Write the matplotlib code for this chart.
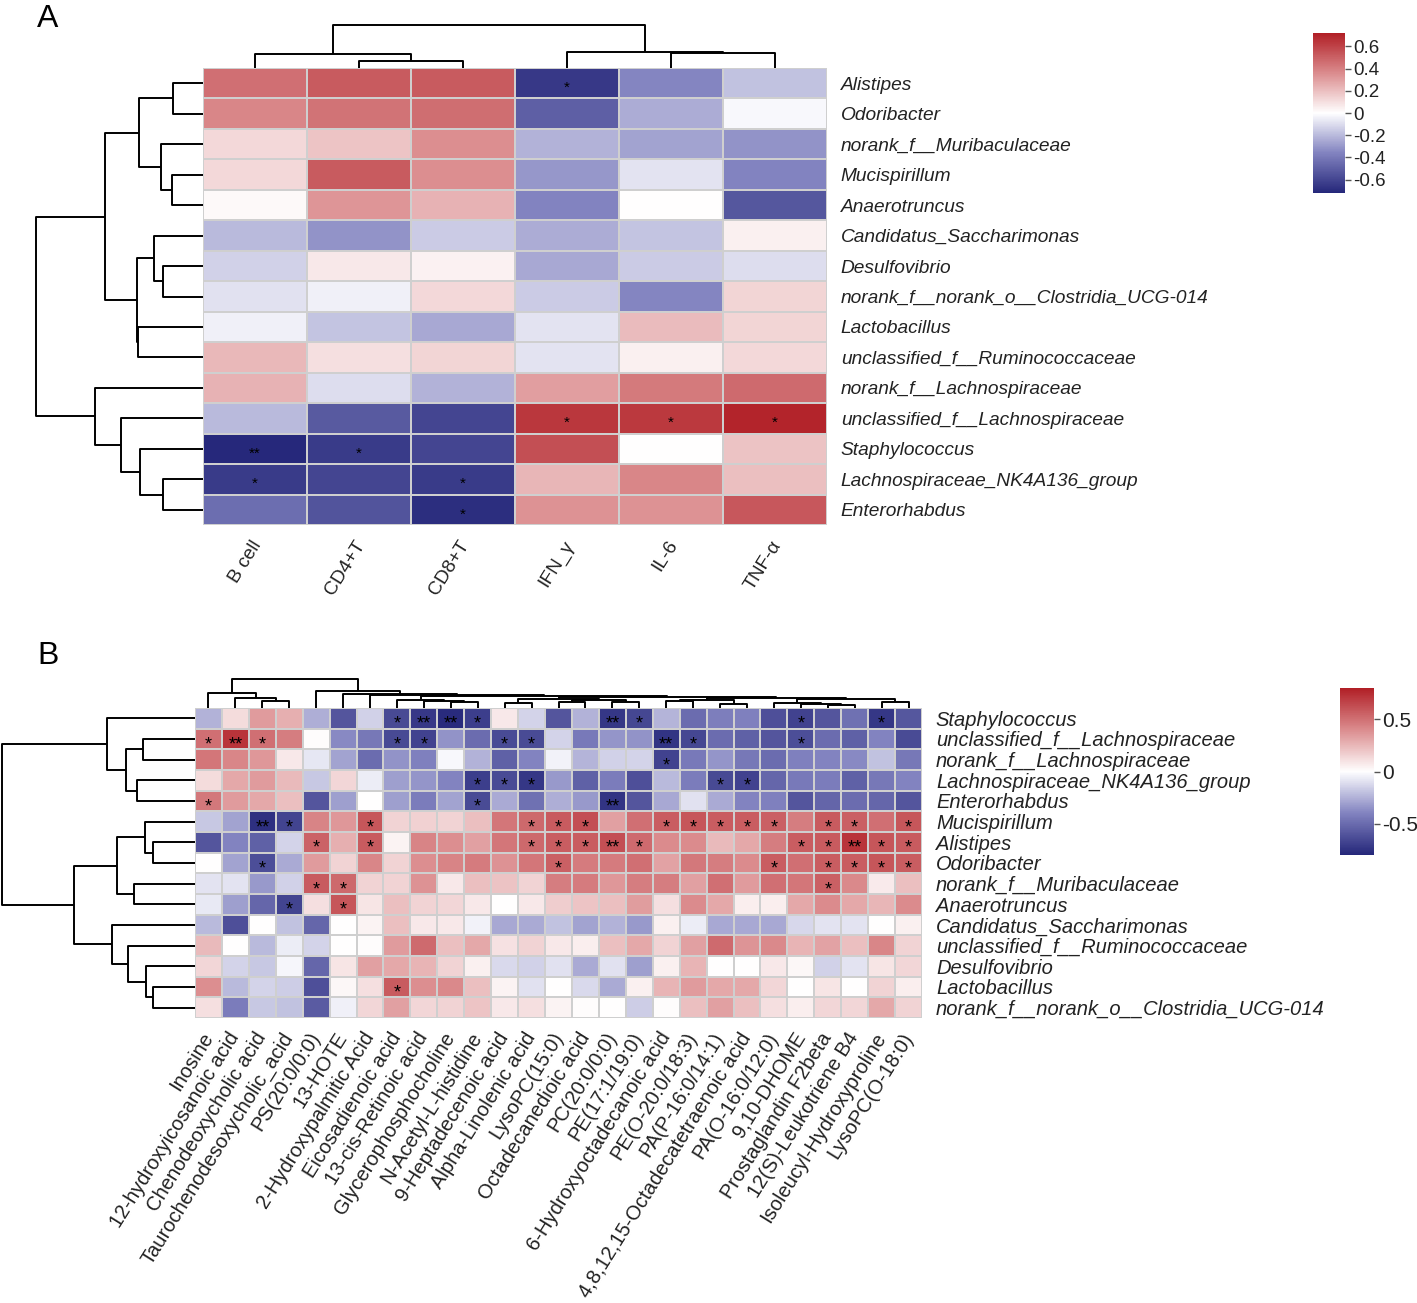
import numpy as np
import matplotlib
matplotlib.use('Agg')
import matplotlib.pyplot as plt
from matplotlib.colors import LinearSegmentedColormap
from matplotlib.transforms import offset_copy

plt.rcParams['font.family'] = ['Liberation Sans', 'DejaVu Sans']
plt.rcParams['axes.unicode_minus'] = False

# ---------------- panel A data ----------------
a_rows = ['Alistipes', 'Odoribacter', 'norank_f__Muribaculaceae', 'Mucispirillum',
          'Anaerotruncus', 'Candidatus_Saccharimonas', 'Desulfovibrio',
          'norank_f__norank_o__Clostridia_UCG-014', 'Lactobacillus',
          'unclassified_f__Ruminococcaceae', 'norank_f__Lachnospiraceae',
          'unclassified_f__Lachnospiraceae', 'Staphylococcus',
          'Lachnospiraceae_NK4A136_group', 'Enterorhabdus']
a_cols = ['B cell', 'CD4+T', 'CD8+T', 'IFN_γ', 'IL-6', 'TNF-α']
a_vals = [
    [0.45, 0.52, 0.52, -0.65, -0.35, -0.18],
    [0.38, 0.44, 0.46, -0.50, -0.24, -0.02],
    [0.12, 0.18, 0.35, -0.22, -0.27, -0.31],
    [0.12, 0.52, 0.35, -0.30, -0.08, -0.36],
    [0.02, 0.33, 0.24, -0.36, 0.00, -0.53],
    [-0.20, -0.31, -0.15, -0.24, -0.17, 0.05],
    [-0.13, 0.07, 0.04, -0.25, -0.15, -0.10],
    [-0.09, -0.04, 0.12, -0.15, -0.35, 0.13],
    [-0.04, -0.17, -0.25, -0.08, 0.21, 0.13],
    [0.22, 0.10, 0.13, -0.08, 0.05, 0.12],
    [0.24, -0.10, -0.22, 0.30, 0.42, 0.47],
    [-0.20, -0.52, -0.60, 0.64, 0.63, 0.70],
    [-0.71, -0.64, -0.60, 0.56, 0.00, 0.19],
    [-0.64, -0.60, -0.64, 0.23, 0.38, 0.20],
    [-0.44, -0.54, -0.69, 0.34, 0.34, 0.53],
]
a_stars = [(0, 3, '*'), (11, 3, '*'), (11, 4, '*'), (11, 5, '*'),
           (12, 0, '**'), (12, 1, '*'), (13, 0, '*'), (13, 2, '*'), (14, 2, '*')]
# dendrograms: (left child, right child, height); new node ids start at n
a_row_tree = [(0, 1, 56), (3, 4, 58), (2, 16, 78), (15, 17, 120), (6, 7, 74),
              (5, 19, 92), (8, 9, 121), (20, 21, 123), (18, 22, 182), (13, 14, 75),
              (12, 24, 118), (11, 25, 152), (10, 26, 202), (23, 27, 311)]
a_col_tree = [(1, 2, 19), (0, 6, 40), (4, 5, 44), (3, 8, 47), (7, 9, 125)]
a_ticks = [0.6, 0.4, 0.2, 0, -0.2, -0.4, -0.6]

# ---------------- panel B data ----------------
b_rows = ['Staphylococcus', 'unclassified_f__Lachnospiraceae', 'norank_f__Lachnospiraceae',
          'Lachnospiraceae_NK4A136_group', 'Enterorhabdus', 'Mucispirillum', 'Alistipes',
          'Odoribacter', 'norank_f__Muribaculaceae', 'Anaerotruncus',
          'Candidatus_Saccharimonas', 'unclassified_f__Ruminococcaceae', 'Desulfovibrio',
          'Lactobacillus', 'norank_f__norank_o__Clostridia_UCG-014']
b_cols = ['Inosine', '12-hydroxyicosanoic acid', 'Chenodeoxycholic acid',
          'Taurochenodesoxycholic_acid', 'PS(20:0/0:0)', '13-HOTE', '2-Hydroxypalmitic Acid',
          'Eicosadienoic acid', '13-cis-Retinoic acid', 'Glycerophosphocholine',
          'N-Acetyl-L-histidine', '9-Heptadecenoic acid', 'Alpha-Linolenic acid',
          'LysoPC(15:0)', 'Octadecanedioic acid', 'PC(20:0/0:0)', 'PE(17:1/19:0)',
          '6-Hydroxyoctadecanoic acid', 'PE(O-20:0/18:3)', 'PA(P-16:0/14:1)',
          '4,8,12,15-Octadecatetraenoic acid', 'PA(O-16:0/12:0)', '9,10-DHOME',
          'Prostaglandin F2beta', '12(S)-Leukotriene B4', 'Isoleucyl-Hydroxyproline',
          'LysoPC(O-18:0)']
b_vals = [
    [-0.25, 0.12, 0.35, 0.28, -0.26, -0.60, -0.15, -0.65, -0.72, -0.78, -0.70, 0.08, -0.14, -0.60,
     -0.25, -0.73, -0.66, -0.24, -0.50, -0.42, -0.41, -0.62, -0.68, -0.60, -0.48, -0.73, -0.59],
    [0.50, 0.72, 0.50, 0.45, 0.01, -0.38, -0.45, -0.65, -0.68, -0.35, -0.50, -0.64, -0.64, -0.14,
     -0.44, -0.34, -0.35, -0.74, -0.66, -0.50, -0.55, -0.60, -0.63, -0.50, -0.55, -0.40, -0.64],
    [0.48, 0.42, 0.36, 0.08, -0.08, -0.30, -0.50, -0.35, -0.41, -0.02, -0.25, -0.55, -0.40, -0.04,
     -0.24, -0.15, -0.14, -0.68, -0.44, -0.34, -0.45, -0.50, -0.41, -0.40, -0.38, -0.20, -0.45],
    [0.12, 0.30, 0.35, 0.24, -0.18, 0.14, -0.06, -0.31, -0.34, -0.40, -0.70, -0.64, -0.73, -0.33,
     -0.55, -0.43, -0.62, -0.22, -0.43, -0.65, -0.68, -0.52, -0.44, -0.43, -0.55, -0.45, -0.40],
    [0.47, 0.35, 0.30, 0.22, -0.60, -0.31, 0.00, -0.31, -0.43, -0.30, -0.64, -0.27, -0.48, -0.26,
     -0.33, -0.74, -0.60, -0.28, -0.10, -0.27, -0.40, -0.41, -0.60, -0.53, -0.50, -0.52, -0.60],
    [-0.18, -0.30, -0.76, -0.67, 0.43, 0.36, 0.60, 0.15, 0.16, 0.15, 0.22, 0.48, 0.53, 0.58,
     0.62, 0.33, 0.50, 0.57, 0.60, 0.57, 0.57, 0.56, 0.45, 0.58, 0.56, 0.50, 0.60],
    [-0.60, -0.40, -0.55, -0.14, 0.55, 0.28, 0.58, 0.04, 0.43, 0.39, 0.33, 0.48, 0.53, 0.57,
     0.57, 0.62, 0.52, 0.40, 0.40, 0.24, 0.30, 0.45, 0.57, 0.58, 0.72, 0.60, 0.58],
    [0.00, -0.30, -0.63, -0.27, 0.35, 0.15, 0.42, 0.15, 0.39, 0.43, 0.46, 0.38, 0.48, 0.56,
     0.46, 0.46, 0.50, 0.32, 0.47, 0.45, 0.40, 0.57, 0.50, 0.57, 0.57, 0.60, 0.57],
    [-0.09, -0.09, -0.33, -0.15, 0.58, 0.53, 0.15, 0.15, 0.38, 0.08, 0.22, 0.21, 0.15, 0.45,
     0.46, 0.36, 0.45, 0.45, 0.33, 0.50, 0.35, 0.50, 0.48, 0.56, 0.41, 0.07, 0.22],
    [-0.07, -0.31, -0.52, -0.67, 0.11, 0.60, 0.09, 0.22, 0.15, 0.14, 0.08, 0.00, 0.08, 0.17,
     0.20, 0.22, 0.34, 0.11, 0.40, 0.30, 0.06, 0.06, 0.30, 0.40, 0.30, 0.25, 0.40],
    [-0.22, -0.62, 0.00, -0.20, -0.52, 0.00, 0.04, 0.22, 0.08, 0.08, -0.04, -0.28, -0.27, -0.20,
     -0.30, -0.25, -0.33, 0.05, -0.06, -0.28, -0.28, -0.28, -0.13, -0.09, -0.09, 0.00, 0.05],
    [0.24, 0.00, -0.22, -0.06, -0.14, 0.00, 0.01, 0.35, 0.52, 0.22, 0.30, 0.10, 0.15, 0.08,
     0.06, 0.22, 0.30, 0.15, 0.33, 0.52, 0.37, 0.41, 0.26, 0.32, 0.22, 0.42, 0.15],
    [0.14, -0.14, -0.18, -0.03, -0.52, 0.09, 0.33, 0.30, 0.26, 0.15, 0.05, -0.12, -0.15, -0.10,
     -0.27, -0.10, -0.31, 0.05, 0.26, 0.00, 0.00, 0.08, 0.03, -0.15, -0.09, 0.09, 0.14],
    [0.39, -0.22, -0.14, -0.16, -0.62, 0.03, 0.11, 0.58, 0.39, 0.41, 0.22, 0.04, -0.10, 0.00,
     -0.12, -0.27, 0.05, 0.26, 0.35, 0.30, 0.30, 0.14, 0.00, 0.09, 0.00, 0.15, 0.06],
    [0.11, -0.43, -0.18, -0.20, -0.57, -0.05, 0.14, 0.33, 0.14, 0.15, 0.20, 0.08, 0.11, 0.04,
     0.01, 0.00, -0.16, 0.01, 0.22, 0.33, 0.22, 0.11, 0.06, 0.14, 0.14, 0.30, 0.15],
]
b_stars = [(0, 7, '*'), (0, 8, '**'), (0, 9, '**'), (0, 10, '*'), (0, 15, '**'), (0, 16, '*'),
           (0, 22, '*'), (0, 25, '*'),
           (1, 0, '*'), (1, 1, '**'), (1, 2, '*'), (1, 7, '*'), (1, 8, '*'), (1, 11, '*'),
           (1, 12, '*'), (1, 17, '**'), (1, 18, '*'), (1, 22, '*'),
           (2, 17, '*'),
           (3, 10, '*'), (3, 11, '*'), (3, 12, '*'), (3, 19, '*'), (3, 20, '*'),
           (4, 0, '*'), (4, 10, '*'), (4, 15, '**'),
           (5, 2, '**'), (5, 3, '*'), (5, 6, '*'), (5, 12, '*'), (5, 13, '*'), (5, 14, '*'),
           (5, 17, '*'), (5, 18, '*'), (5, 19, '*'), (5, 20, '*'), (5, 21, '*'), (5, 23, '*'),
           (5, 24, '*'), (5, 26, '*'),
           (6, 4, '*'), (6, 6, '*'), (6, 12, '*'), (6, 13, '*'), (6, 14, '*'), (6, 15, '**'),
           (6, 16, '*'), (6, 22, '*'), (6, 23, '*'), (6, 24, '**'), (6, 25, '*'), (6, 26, '*'),
           (7, 2, '*'), (7, 13, '*'), (7, 21, '*'), (7, 23, '*'), (7, 24, '*'), (7, 25, '*'),
           (7, 26, '*'),
           (8, 4, '*'), (8, 5, '*'), (8, 23, '*'),
           (9, 3, '*'), (9, 5, '*'),
           (13, 7, '*')]
b_row_tree = [(1, 2, 156), (3, 4, 173), (15, 16, 206), (0, 17, 263), (6, 7, 126),
              (5, 19, 150), (8, 9, 182), (20, 21, 233), (13, 14, 126), (12, 23, 148),
              (11, 24, 200), (10, 25, 248), (22, 26, 363), (18, 27, 578)]
b_col_tree = [(2, 3, 22), (1, 27, 30), (0, 28, 45), (9, 10, 18), (8, 30, 21), (7, 31, 24),
              (11, 12, 15), (13, 14, 18), (15, 16, 18), (34, 35, 24), (33, 36, 27),
              (17, 18, 20), (19, 20, 12), (38, 39, 25), (23, 24, 10), (22, 41, 12),
              (21, 42, 16), (25, 26, 18), (43, 44, 26), (40, 45, 29), (37, 46, 32),
              (32, 47, 35), (6, 48, 38), (5, 49, 42), (4, 50, 51), (29, 51, 88)]
b_ticks = [0.5, 0, -0.5]

W, H = 1417, 1303
fig = plt.figure(figsize=(W / 100, H / 100), dpi=100)


def rect(x0, y0, x1, y1):
    return [x0 / W, 1 - y1 / H, (x1 - x0) / W, (y1 - y0) / H]


cmap = LinearSegmentedColormap.from_list(
    'ph', [(0, '#25277a'), (0.25, '#8283c0'), (0.5, '#ffffff'), (0.75, '#db8c8e'), (1, '#b11f26')])


def draw_tree(ax, tree, n, side):
    pos = {i: i + 0.5 for i in range(n)}
    hgt = {i: 0 for i in range(n)}
    for k, (a, b, h) in enumerate(tree):
        xs = [pos[a], pos[a], pos[b], pos[b]]
        ys = [hgt[a], h, h, hgt[b]]
        if side == 'top':
            ax.plot(xs, ys, color='black', lw=1.4, clip_on=False, solid_capstyle='butt')
        else:
            ax.plot(ys, xs, color='black', lw=1.4, clip_on=False, solid_capstyle='butt')
        pos[n + k] = (pos[a] + pos[b]) / 2
        hgt[n + k] = h
    root = tree[-1][2]
    if side == 'top':
        ax.set_xlim(0, n)
        ax.set_ylim(0, root)
    else:
        ax.set_ylim(n, 0)
        ax.set_xlim(root, 0)
    ax.axis('off')


def heat(ax, vals, rows, cols, stars, vmax, lab_fs, star_fs, rot, dx, dy):
    vals = np.array(vals)
    nr, nc = vals.shape
    m = ax.pcolormesh(np.arange(nc + 1), np.arange(nr + 1), vals, cmap=cmap,
                      vmin=-vmax, vmax=vmax, edgecolors='#cfcfcf', linewidth=1.1)
    ax.set_xlim(0, nc)
    ax.set_ylim(nr, 0)
    for s in ax.spines.values():
        s.set_visible(False)
    ax.set_xticks([])
    ax.yaxis.tick_right()
    ax.set_yticks(np.arange(nr) + 0.5)
    ax.set_yticklabels(rows, fontstyle='italic', fontsize=lab_fs, color='#222222')
    ax.tick_params(axis='y', length=0, pad=10)
    st = offset_copy(ax.transData, fig=fig, y=-0.58 * star_fs, units='points')
    for r, c, s in stars:
        ax.text(c + 0.5, r + 0.5, s, ha='center', va='baseline', fontsize=star_fs,
                color='black', transform=st)
    lt = offset_copy(ax.transData, fig=fig, x=dx * 0.72, y=-dy * 0.72, units='points')
    for j, name in enumerate(cols):
        ax.text(j + 0.5, nr, name, rotation=rot, rotation_mode='anchor', ha='right',
                va='center', fontsize=lab_fs, color='#222222', transform=lt)
    return m


def cbar(m, cax, ticks, fs):
    cb = fig.colorbar(m, cax=cax)
    cb.outline.set_visible(False)
    cb.set_ticks(ticks)
    cb.set_ticklabels([('%g' % t) for t in ticks])
    cax.tick_params(length=4, width=1, color='#555555', labelcolor='#222222',
                    labelsize=fs, pad=2)


# ---------------- panel A ----------------
axA = fig.add_axes(rect(203, 68, 827, 525))
mA = heat(axA, a_vals, a_rows, a_cols, a_stars, 0.72, 13.8, 11, 58, 3, 17)
draw_tree(fig.add_axes(rect(36, 68, 203, 525)), a_row_tree, len(a_rows), 'left')
draw_tree(fig.add_axes(rect(203, 25, 827, 68)), a_col_tree, len(a_cols), 'top')
cbar(mA, fig.add_axes(rect(1313, 33, 1345, 193)), a_ticks, 13.5)

# ---------------- panel B ----------------
axB = fig.add_axes(rect(195, 708, 922, 1018))
mB = heat(axB, b_vals, b_rows, b_cols, b_stars, 0.8, 14.5, 13, 58, 0, 16)
draw_tree(fig.add_axes(rect(2, 708, 195, 1018)), b_row_tree, len(b_rows), 'left')
draw_tree(fig.add_axes(rect(195, 679, 922, 708)), b_col_tree, len(b_cols), 'top')
cbar(mB, fig.add_axes(rect(1340, 688, 1374, 855)), b_ticks, 15)

for lab, y in [('A', 4), ('B', 641)]:
    fig.text(37 / W, 1 - y / H, lab, fontsize=23, va='top', ha='left',
             family=['Liberation Sans Narrow', 'Liberation Sans'])

fig.savefig('out.png', dpi=100)
